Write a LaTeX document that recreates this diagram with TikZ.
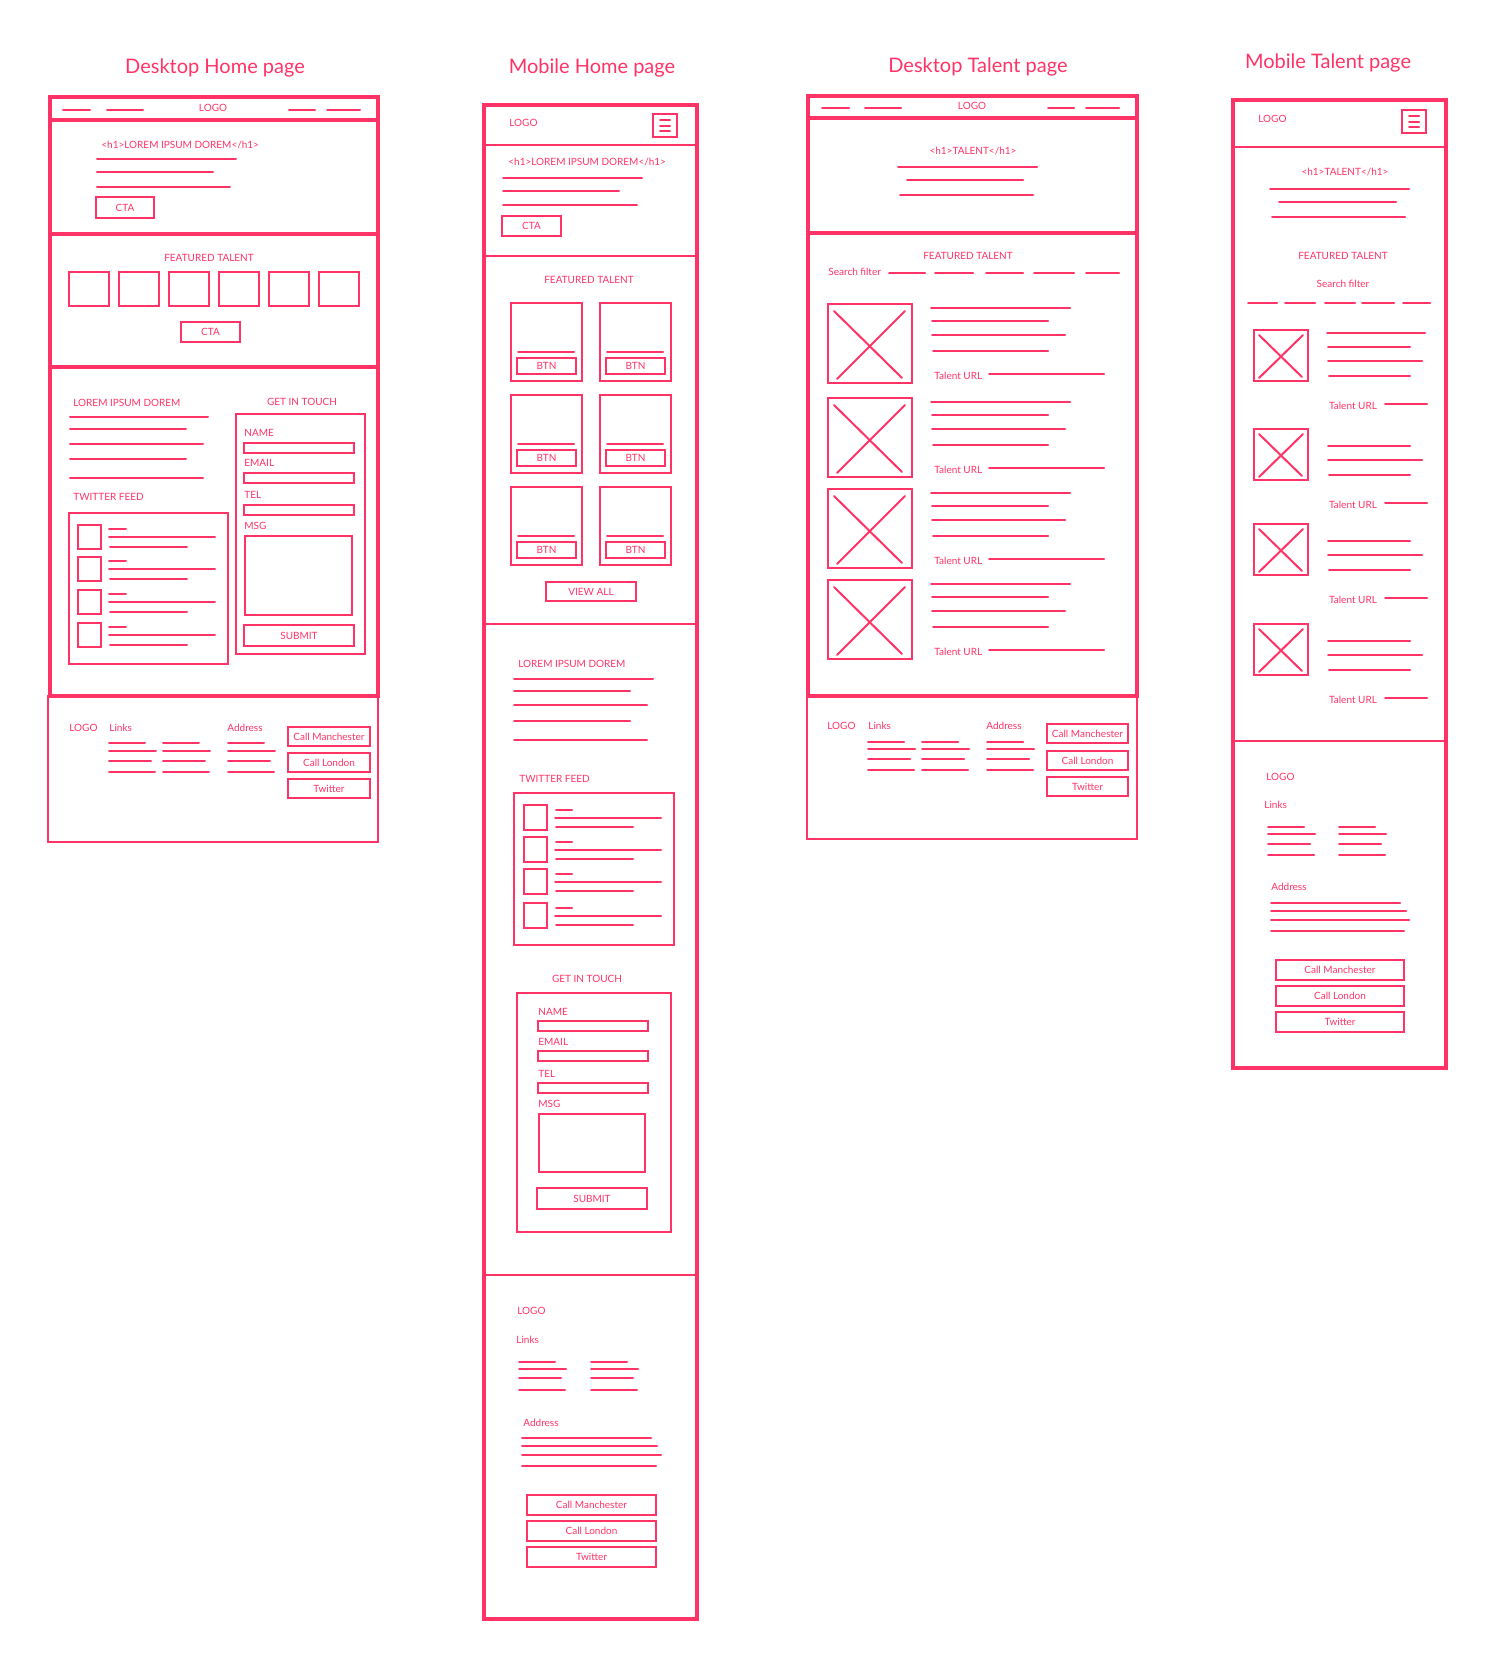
\documentclass[tikz,border=0pt]{standalone}
\usepackage{fontspec}
\setmainfont{Lato}
\definecolor{wire}{RGB}{255,51,102}
\tikzset{
  frame/.style={draw=wire, line width=2pt},
  rule/.style={draw=wire, line width=1pt},
  lbl/.style={text=wire, inner sep=0pt, font=\fontsize{5}{6}\selectfont},
  ttl/.style={text=wire, inner sep=0pt, font=\fontsize{10}{12}\selectfont},
}
\begin{document}
\begin{tikzpicture}[x=0.5pt, y=-0.5pt, line cap=round]
\useasboundingbox (0,0) rectangle (1494,1676);

%% Desktop Home page
\node[ttl] (dh-title) at (215,68) {Desktop Home page};
\draw[frame] (50,97) rectangle (378,696);
\foreach \y in {120,234,367}
{	\draw[frame] (50,\y) -- (378,\y);}
\draw[rule] (48,696) rectangle (378,842);
% nav
\foreach \a/\b in {63/90, 107/143, 289/315, 327/360}
{	\draw[rule] (\a,110) -- (\b,110);}
\node[lbl] (dh-logo) at (213,108) {LOGO};
% hero
\node[lbl, anchor=west] (dh-h1) at (101,145) {<h1>LOREM IPSUM DOREM</h1>};
\foreach \y/\b in {159/236, 172/213, 187/230}
{	\draw[rule] (97,\y) -- (\b,\y);}
\draw[rule] (96,197) rectangle (154,218);
\node[lbl] (dh-cta) at (125,207.5) {CTA};
% featured talent
\node[lbl] (dh-feat) at (209,258) {FEATURED TALENT};
\foreach \x in {69,119,169,219,269,319}
{	\draw[rule] (\x,272) rectangle ++(40,34);}
\draw[rule] (181,322) rectangle (240,342);
\node[lbl] (dh-cta2) at (210.5,332) {CTA};
% text and twitter feed
\node[lbl, anchor=west] (dh-lorem) at (73,403) {LOREM IPSUM DOREM};
\foreach \y/\b in {417/208, 429/186, 444/203, 459/186, 478/203}
{	\draw[rule] (70,\y) -- (\b,\y);}
\node[lbl, anchor=west] (dh-tw) at (73,497) {TWITTER FEED};
\draw[rule] (69,513) rectangle (228,664);
\foreach \y in {525,557,590,623}
{	\draw[rule] (78,\y) rectangle ++(23,24);
	\draw[rule] (109,\y+4) -- (126,\y+4);
	\draw[rule] (109,\y+12) -- (215,\y+12);
	\draw[rule] (110,\y+22) -- (187,\y+22);}
% contact form
\node[lbl] (dh-git) at (302,402) {GET IN TOUCH};
\draw[rule] (236,414) rectangle (365,654);
\foreach \y/\t in {433/NAME, 463/EMAIL, 495/TEL}
{	\node[lbl, anchor=west] (dh-\t) at (244,\y) {\t};
	\draw[rule] (244,\y+9.5) rectangle (354,\y+19.5);}
\node[lbl, anchor=west] (dh-msg) at (244,526) {MSG};
\draw[rule] (245,536) rectangle (352,615);
\draw[rule] (244,625) rectangle (354,646);
\node[lbl] (dh-submit) at (299,635.5) {SUBMIT};
% footer
\node[lbl, anchor=west] (dh-flogo) at (69,728) {LOGO};
\node[lbl, anchor=west] (dh-links) at (109,728) {Links};
\node[lbl, anchor=west] (dh-addr) at (227,728) {Address};
\foreach \x in {109,163,228}
	\foreach \y/\l in {743/36, 751/47, 761/42, 772/46}
	{	\draw[rule] (\x,\y) -- ++(\l,0);}
\foreach \y/\t [count=\i] in {727/Call Manchester, 753/Call London, 779/Twitter}
{	\draw[rule] (288,\y) rectangle (370,\y+19);
	\node[lbl] (dh-btn\i) at (329,\y+9.5) {\t};}

%% Mobile Home page
\node[ttl] (mh-title) at (592,68) {Mobile Home page};
\draw[frame] (484,105) rectangle (697,1619);
\foreach \y in {145,256,624,1275}
{	\draw[rule] (484,\y) -- (697,\y);}
\node[lbl, anchor=west] (mh-logo) at (509,123) {LOGO};
\draw[rule] (653,114) rectangle (677,137);
\foreach \y in {120,125.5,131}
{	\draw[rule] (660,\y) -- (670,\y);}
% hero
\node[lbl, anchor=west] (mh-h1) at (508,162) {<h1>LOREM IPSUM DOREM</h1>};
\foreach \y/\b in {178/642, 191/619, 205/637}
{	\draw[rule] (503,\y) -- (\b,\y);}
\draw[rule] (502,216) rectangle (561,236);
\node[lbl] (mh-cta) at (531.5,226) {CTA};
% featured talent
\node[lbl] (mh-feat) at (589,280) {FEATURED TALENT};
\foreach \x in {511,600}
	\foreach \y in {303,395,487}
	{	\draw[rule] (\x,\y) rectangle ++(71,78);
		\draw[rule] (\x+7,\y+49) -- ++(56,0);
		\draw[rule] (\x+6,\y+55) rectangle ++(59,16);
		\node[lbl] (mh-btn-\x-\y) at (\x+35.5,\y+63) {BTN};}
\draw[rule] (546,582) rectangle (636,601);
\node[lbl] (mh-viewall) at (591,591.5) {VIEW ALL};
% text and twitter feed
\node[lbl, anchor=west] (mh-lorem) at (518,664) {LOREM IPSUM DOREM};
\foreach \y/\b in {679/653, 691/630, 705/647, 721/630, 740/647}
{	\draw[rule] (514,\y) -- (\b,\y);}
\node[lbl, anchor=west] (mh-tw) at (519,779) {TWITTER FEED};
\draw[rule] (514,793) rectangle (674,945);
\foreach \y in {805,837,869,903}
{	\draw[rule] (524,\y) rectangle ++(23,25);
	\draw[rule] (556,\y+5) -- (572,\y+5);
	\draw[rule] (555,\y+13) -- (661,\y+13);
	\draw[rule] (556,\y+22) -- (633,\y+22);}
% contact form
\node[lbl] (mh-git) at (587,979) {GET IN TOUCH};
\draw[rule] (517,993) rectangle (671,1232);
\foreach \y/\t in {1012/NAME, 1042/EMAIL, 1074/TEL}
{	\node[lbl, anchor=west] (mh-\t) at (538,\y) {\t};
	\draw[rule] (538,\y+9) rectangle (648,\y+19);}
\node[lbl, anchor=west] (mh-msg) at (538,1104) {MSG};
\draw[rule] (539,1114) rectangle (645,1172);
\draw[rule] (537,1188) rectangle (647,1209);
\node[lbl] (mh-submit) at (592,1198.5) {SUBMIT};
% footer
\node[lbl, anchor=west] (mh-flogo) at (517,1311) {LOGO};
\node[lbl, anchor=west] (mh-links) at (516,1340) {Links};
\foreach \x in {519,591}
	\foreach \y/\l in {1362/36, 1369/47, 1378/42, 1390/46}
	{	\draw[rule] (\x,\y) -- ++(\l,0);}
\node[lbl, anchor=west] (mh-addr) at (523,1423) {Address};
\foreach \y/\b in {1438/651, 1446/657, 1455/661, 1466/656}
{	\draw[rule] (522,\y) -- (\b,\y);}
\foreach \y/\t [count=\i] in {1495/Call Manchester, 1521/Call London, 1547/Twitter}
{	\draw[rule] (527,\y) rectangle (656,\y+20);
	\node[lbl] (mh-btn\i) at (591.5,\y+10) {\t};}

%% Desktop Talent page
\node[ttl] (dt-title) at (978,67) {Desktop Talent page};
\draw[frame] (808,96) rectangle (1137,696);
\foreach \y in {118,233}
{	\draw[frame] (808,\y) -- (1137,\y);}
\draw[rule] (807,696) rectangle (1137,839);
\foreach \a/\b in {822/849, 865/901, 1048/1074, 1086/1119}
{	\draw[rule] (\a,108) -- (\b,108);}
\node[lbl] (dt-logo) at (972,106) {LOGO};
\node[lbl] (dt-h1) at (973,151) {<h1>TALENT</h1>};
\foreach \a/\y/\b in {898/167/1037, 907/180/1023, 900/195/1033}
{	\draw[rule] (\a,\y) -- (\b,\y);}
% talent list
\node[lbl] (dt-feat) at (968,256) {FEATURED TALENT};
\node[lbl, anchor=west] (dt-search) at (828,272) {Search filter};
\foreach \a/\b in {889/925, 935/973, 986/1023, 1034/1074, 1086/1119}
{	\draw[rule] (\a,273) -- (\b,273);}
\foreach \y [count=\i] in {304,398,489,580}
{	\draw[rule] (828,\y) rectangle (912,\y+79);
	\draw[rule] (834,\y+7) -- (902,\y+74);
	\draw[rule] (905,\y+7) -- (837,\y+75);
	\draw[rule] (931,\y+4) -- (1070,\y+4);
	\draw[rule] (932,\y+17) -- (1048,\y+17);
	\draw[rule] (932,\y+31) -- (1065,\y+31);
	\draw[rule] (933,\y+47) -- (1048,\y+47);
	\node[lbl, anchor=west] (dt-url\i) at (934,\y+72) {Talent URL};
	\draw[rule] (989,\y+70) -- (1104,\y+70);}
% footer
\node[lbl, anchor=west] (dt-flogo) at (827,726) {LOGO};
\node[lbl, anchor=west] (dt-links) at (868,726) {Links};
\node[lbl, anchor=west] (dt-addr) at (986,726) {Address};
\foreach \x in {868,922,987}
	\foreach \y/\l in {742/36, 749/47, 759/42, 770/46}
	{	\draw[rule] (\x,\y) -- ++(\l,0);}
\foreach \y/\t [count=\i] in {724/Call Manchester, 751/Call London, 777/Twitter}
{	\draw[rule] (1047,\y) rectangle (1128,\y+19);
	\node[lbl] (dt-btn\i) at (1087.5,\y+9.5) {\t};}

%% Mobile Talent page
\node[ttl] (mt-title) at (1328,63) {Mobile Talent page};
\draw[frame] (1233,100) rectangle (1446,1068);
\foreach \y in {147,741}
{	\draw[rule] (1233,\y) -- (1446,\y);}
\node[lbl, anchor=west] (mt-logo) at (1258,119) {LOGO};
\draw[rule] (1402,110) rectangle (1426,133);
\foreach \y in {116,121.5,127}
{	\draw[rule] (1409,\y) -- (1419,\y);}
\node[lbl] (mt-h1) at (1345,172) {<h1>TALENT</h1>};
\foreach \a/\y/\b in {1270/189/1409, 1279/202/1396, 1272/217/1405}
{	\draw[rule] (\a,\y) -- (\b,\y);}
% talent list
\node[lbl] (mt-feat) at (1343,256) {FEATURED TALENT};
\node[lbl] (mt-search) at (1343,284) {Search filter};
\foreach \a/\b in {1248/1277, 1285/1315, 1325/1355, 1362/1394, 1403/1430}
{	\draw[rule] (\a,303) -- (\b,303);}
\draw[rule] (1327,333) -- (1425,333);  % extra line on first card
\foreach \y [count=\i] in {330,429,524,624}
{	\draw[rule] (1254,\y) rectangle (1308,\y+51);
	\draw[rule] (1259,\y+5) -- (1302,\y+47);
	\draw[rule] (1303,\y+5) -- (1259,\y+48);
	\draw[rule] (1328,\y+16.5) -- (1410,\y+16.5);
	\draw[rule] (1328,\y+30.5) -- (1422,\y+30.5);
	\draw[rule] (1329,\y+45.5) -- (1410,\y+45.5);
	\node[lbl] (mt-url\i) at (1353,\y+75.5) {Talent URL};
	\draw[rule] (1385,\y+73.5) -- (1427,\y+73.5);}
% footer
\node[lbl, anchor=west] (mt-flogo) at (1266,777) {LOGO};
\node[lbl, anchor=west] (mt-links) at (1264,805) {Links};
\foreach \x in {1268,1339}
	\foreach \y/\l in {827/36, 834/47, 844/42, 855/46}
	{	\draw[rule] (\x,\y) -- ++(\l,0);}
\node[lbl, anchor=west] (mt-addr) at (1271,887) {Address};
\foreach \y/\b in {903/1400, 911/1406, 920/1409, 931/1404}
{	\draw[rule] (1271,\y) -- (\b,\y);}
\foreach \y/\t [count=\i] in {960/Call Manchester, 986/Call London, 1012/Twitter}
{	\draw[rule] (1276,\y) rectangle (1404,\y+20);
	\node[lbl] (mt-btn\i) at (1340,\y+10) {\t};}
\end{tikzpicture}
\end{document}
